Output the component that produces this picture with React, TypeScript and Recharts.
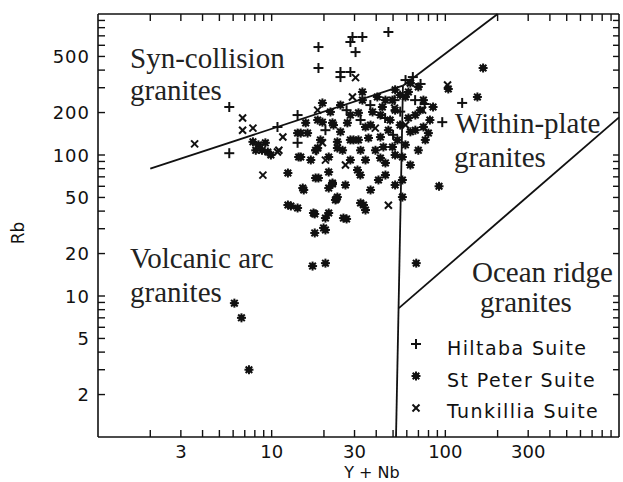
import { ScatterChart, Scatter, XAxis, YAxis, ReferenceLine } from "recharts";

// Y + Nb (x) vs Rb (y), ppm
const hiltaba = [
    { x: 18.6, y: 583 }, { x: 18.6, y: 414 }, { x: 28.4, y: 633 }, { x: 29.2, y: 687 },
    { x: 33.3, y: 687 }, { x: 30.4, y: 537 }, { x: 47, y: 745 }, { x: 24.9, y: 388 },
    { x: 28.4, y: 388 }, { x: 24.9, y: 357 }, { x: 5.7, y: 219 }, { x: 5.7, y: 103 },
    { x: 10.8, y: 158 }, { x: 14.1, y: 192 }, { x: 14.1, y: 122 }, { x: 18.1, y: 108 },
    { x: 125, y: 234 }, { x: 96, y: 171 }, { x: 59, y: 340 }, { x: 65, y: 357 },
    { x: 72, y: 319 }, { x: 67, y: 245 }, { x: 76, y: 230 }, { x: 51, y: 245 },
    { x: 45, y: 183 }, { x: 37, y: 226 }, { x: 20.4, y: 150 }, { x: 32.5, y: 177 },
    { x: 50, y: 139 }, { x: 55, y: 203 }, { x: 27, y: 208 }
];

const stPeter = [
    { x: 6.1, y: 8.9 }, { x: 6.7, y: 7.0 }, { x: 7.4, y: 3.0 }, { x: 17.2, y: 16.3 },
    { x: 20.4, y: 17.1 }, { x: 68, y: 17.1 }, { x: 92, y: 60 }, { x: 165, y: 414 },
    { x: 153, y: 258 }, { x: 85, y: 219 }, { x: 104, y: 294 },
    { x: 7.8, y: 124 }, { x: 8.4, y: 118 }, { x: 9.2, y: 122 }, { x: 8.8, y: 108 },
    { x: 9.5, y: 105 }, { x: 9.9, y: 100 }, { x: 8.1, y: 108 }, { x: 12.4, y: 74.5 },
    { x: 12.9, y: 43.5 }, { x: 14.1, y: 42.1 }, { x: 14.3, y: 96.8 }, { x: 14.1, y: 143 },
    { x: 15.1, y: 58.3 }, { x: 12.4, y: 44.2 }, { x: 15.3, y: 56.5 }, { x: 17.7, y: 38.2 },
    { x: 20.4, y: 35.7 }, { x: 21.3, y: 38.8 }, { x: 19.9, y: 30.4 }, { x: 17.7, y: 28 },
    { x: 23.6, y: 48.7 }, { x: 22.4, y: 62.3 }, { x: 27, y: 35.2 }, { x: 32.5, y: 45.7 },
    { x: 34.7, y: 40.7 }, { x: 25.9, y: 35.7 }, { x: 20.4, y: 29.4 }, { x: 18.6, y: 68.7 },
    { x: 21.3, y: 58.3 }, { x: 17.9, y: 68.7 }, { x: 18.4, y: 112 }, { x: 18.4, y: 177 },
    { x: 19.6, y: 234 }, { x: 14.7, y: 143 }, { x: 19.6, y: 171 }, { x: 22.7, y: 163 },
    { x: 27.3, y: 169 }, { x: 31.6, y: 199 }, { x: 37.1, y: 163 }, { x: 42.3, y: 192 },
    { x: 23.9, y: 124 }, { x: 28.4, y: 128 }, { x: 31.6, y: 128 }, { x: 36.1, y: 132 },
    { x: 42.3, y: 134 }, { x: 25.6, y: 108 }, { x: 14.7, y: 96.8 }, { x: 34.7, y: 92.2 },
    { x: 42.3, y: 95.2 }, { x: 45.2, y: 87.8 }, { x: 21.3, y: 75.7 }, { x: 22.4, y: 63.3 },
    { x: 31.2, y: 78.3 }, { x: 41.2, y: 66.5 }, { x: 56.6, y: 66.5 }, { x: 56.6, y: 50.3 },
    { x: 56.6, y: 96.8 }, { x: 23.9, y: 50.3 }, { x: 33.3, y: 280 }, { x: 40.6, y: 258 },
    { x: 43.4, y: 219 }, { x: 49.6, y: 245 }, { x: 58.9, y: 258 }, { x: 62.9, y: 324 },
    { x: 69.9, y: 304 }, { x: 74.8, y: 245 }, { x: 67.2, y: 192 }, { x: 74.8, y: 158 },
    { x: 79.9, y: 143 }, { x: 62.9, y: 146 }, { x: 53, y: 128 }, { x: 44, y: 114 },
    { x: 34.7, y: 158 }, { x: 29.6, y: 128 }, { x: 24.9, y: 146 }, { x: 22.4, y: 169 },
    { x: 19.1, y: 128 }, { x: 17.9, y: 108 }, { x: 21.3, y: 96.8 }, { x: 23.9, y: 112 },
    { x: 16.1, y: 143 }, { x: 15.7, y: 169 }, { x: 23.3, y: 48 }, { x: 17.4, y: 38.8 },
    { x: 33.8, y: 44.2 }, { x: 49.6, y: 114 }, { x: 51.4, y: 290 }, { x: 54.9, y: 266 },
    { x: 61.3, y: 280 }, { x: 51.4, y: 208 }, { x: 48.1, y: 177 }, { x: 54.9, y: 163 },
    { x: 61.3, y: 183 }, { x: 47, y: 150 }, { x: 58.9, y: 118 }, { x: 51.4, y: 100 },
    { x: 62.9, y: 84.9 }, { x: 69.9, y: 108 }, { x: 76.7, y: 128 }, { x: 81.5, y: 177 },
    { x: 45.2, y: 245 }, { x: 38.1, y: 202 }, { x: 33.3, y: 245 }, { x: 28.4, y: 192 },
    { x: 24.9, y: 226 }, { x: 21.8, y: 202 }, { x: 39.6, y: 108 }, { x: 28.4, y: 92.2 },
    { x: 32.4, y: 72.1 }, { x: 26.6, y: 61.3 }, { x: 37.1, y: 56.5 }, { x: 45.2, y: 72.1 },
    { x: 51.4, y: 61.3 }, { x: 67.2, y: 150 }, { x: 71.8, y: 208 }, { x: 32.5, y: 108 },
    { x: 16.8, y: 92.2 }
];

const tunkillia = [
    { x: 3.6, y: 120 }, { x: 6.8, y: 183 }, { x: 6.8, y: 150 }, { x: 7.8, y: 155 },
    { x: 8.9, y: 72 }, { x: 11.6, y: 134 }, { x: 11, y: 108 }, { x: 10.8, y: 105 },
    { x: 18.4, y: 208 }, { x: 29.2, y: 258 }, { x: 20.4, y: 92 }, { x: 26.6, y: 85 },
    { x: 30.4, y: 354 }, { x: 47, y: 44 }, { x: 63, y: 324 }, { x: 103, y: 314 },
    { x: 74, y: 208 }, { x: 19.6, y: 122 }, { x: 51, y: 215 }, { x: 39.5, y: 155 },
    { x: 59, y: 163 }
];

// field boundaries
const colgVagLine = [{ x: 2, y: 80 }, { x: 57, y: 310 }];
const colgWpgLine = [{ x: 57, y: 310 }, { x: 200, y: 1000 }];
const vagWpgLine = [{ x: 52, y: 1 }, { x: 57, y: 310 }];
const wpgOrgLine = [{ x: 54, y: 8.2 }, { x: 1000, y: 185 }];

const xTicks = [2, 3, 4, 5, 6, 7, 8, 9, 10, 20, 30, 40, 50, 60, 70, 80, 90, 100, 200, 300, 400, 500, 600, 700, 800, 900];
const yTicks = [2, 3, 4, 5, 6, 7, 8, 9, 10, 20, 30, 40, 50, 60, 70, 80, 90, 100, 200, 300, 400, 500, 600, 700, 800, 900];
const xLabels = [3, 10, 30, 100, 300];
const yLabels = [2, 5, 10, 20, 50, 100, 200, 500];

const ink = "#111";
const sansFont = "'DejaVu Sans', sans-serif";
const serifFont = "'Liberation Serif', 'Times New Roman', serif";

// plot box, set by the chart margins and axis sizes below
const plot = { left: 98, right: 619, top: 14, bottom: 437 };
const tickX = (v: number) => plot.left + ((plot.right - plot.left) * Math.log10(v)) / 3;
const tickY = (v: number) => plot.bottom - ((plot.bottom - plot.top) * Math.log10(v)) / 3;

const PlusMark = ({ cx, cy }: any) => (
    <g stroke={ink} strokeWidth={2}>
        <line x1={cx - 5} y1={cy} x2={cx + 5} y2={cy} />
        <line x1={cx} y1={cy - 5} x2={cx} y2={cy + 5} />
    </g>
);

const StarMark = ({ cx, cy }: any) => (
    <g stroke={ink} strokeWidth={2}>
        <circle cx={cx} cy={cy} r={3} fill={ink} stroke="none" />
        <line x1={cx - 4.5} y1={cy} x2={cx + 4.5} y2={cy} />
        <line x1={cx} y1={cy - 4.5} x2={cx} y2={cy + 4.5} />
        <line x1={cx - 3.3} y1={cy - 3.3} x2={cx + 3.3} y2={cy + 3.3} />
        <line x1={cx - 3.3} y1={cy + 3.3} x2={cx + 3.3} y2={cy - 3.3} />
    </g>
);

const CrossMark = ({ cx, cy }: any) => (
    <g stroke={ink} strokeWidth={2}>
        <line x1={cx - 3.5} y1={cy - 3.5} x2={cx + 3.5} y2={cy + 3.5} />
        <line x1={cx - 3.5} y1={cy + 3.5} x2={cx + 3.5} y2={cy - 3.5} />
    </g>
);

const BottomLabel = (props: any) => {
    const { x, y, payload } = props;
    if (!xLabels.includes(payload.value)) return <g />;
    return (
        <text x={x} y={y + 21} textAnchor="middle" fontFamily={sansFont} fontSize={18} fill={ink}>
            {payload.value}
        </text>
    );
};

const LeftLabel = (props: any) => {
    const { x, y, payload } = props;
    if (!yLabels.includes(payload.value)) return <g />;
    return (
        <text x={x - 8} y={y + 6.5} textAnchor="end" fontFamily={sansFont} fontSize={18} letterSpacing={1} fill={ink}>
            {payload.value}
        </text>
    );
};

const fieldLabels = [
    { x: 130, y: 68, text: "Syn-collision" },
    { x: 130, y: 100, text: "granites" },
    { x: 455, y: 133, text: "Within-plate" },
    { x: 454, y: 167, text: "granites" },
    { x: 130, y: 268, text: "Volcanic arc" },
    { x: 130, y: 302, text: "granites" },
    { x: 472, y: 282, text: "Ocean ridge" },
    { x: 480, y: 312, text: "granites" }
];

const legendItems = [
    { name: "Hiltaba Suite", Mark: PlusMark },
    { name: "St Peter Suite", Mark: StarMark },
    { name: "Tunkillia Suite", Mark: CrossMark }
];

export default function App() {
    const axisStyle = { stroke: ink, strokeWidth: 1.6 };
    return (
        <div style={{ position: "absolute", left: 0, top: 0, width: 623, height: 482, background: "#fff" }}>
            <ScatterChart width={623} height={482} margin={{ top: 14, right: 4, bottom: 0, left: 0 }}>
                <XAxis xAxisId="b" type="number" dataKey="x" scale="log" domain={[1, 1000]} allowDataOverflow
                    ticks={xTicks} interval={0} height={45} tickSize={0} tickMargin={0} tickLine={false}
                    axisLine={axisStyle} tick={(p: any) => <BottomLabel {...p} />} />
                <YAxis yAxisId="l" type="number" dataKey="y" scale="log" domain={[1, 1000]} allowDataOverflow
                    ticks={yTicks} interval={0} width={98} tickSize={0} tickMargin={0} tickLine={false}
                    axisLine={axisStyle} tick={(p: any) => <LeftLabel {...p} />} />

                <ReferenceLine xAxisId="b" yAxisId="l" segment={colgVagLine} stroke={ink} strokeWidth={1.8} ifOverflow="visible" />
                <ReferenceLine xAxisId="b" yAxisId="l" segment={colgWpgLine} stroke={ink} strokeWidth={1.8} ifOverflow="visible" />
                <ReferenceLine xAxisId="b" yAxisId="l" segment={vagWpgLine} stroke={ink} strokeWidth={1.8} ifOverflow="visible" />
                <ReferenceLine xAxisId="b" yAxisId="l" segment={wpgOrgLine} stroke={ink} strokeWidth={1.8} ifOverflow="visible" />

                <Scatter xAxisId="b" yAxisId="l" data={hiltaba} shape={(p: any) => <PlusMark cx={p.cx} cy={p.cy} />} isAnimationActive={false} />
                <Scatter xAxisId="b" yAxisId="l" data={stPeter} shape={(p: any) => <StarMark cx={p.cx} cy={p.cy} />} isAnimationActive={false} />
                <Scatter xAxisId="b" yAxisId="l" data={tunkillia} shape={(p: any) => <CrossMark cx={p.cx} cy={p.cy} />} isAnimationActive={false} />
            </ScatterChart>

            {/* frame with inward ticks, field names, legend and axis titles */}
            <svg width={623} height={482} style={{ position: "absolute", left: 0, top: 0, pointerEvents: "none" }}>
                <g stroke={ink} strokeWidth={1.4}>
                    <line x1={plot.left} y1={plot.top} x2={plot.right} y2={plot.top} strokeWidth={1.6} />
                    <line x1={plot.right} y1={plot.top} x2={plot.right} y2={plot.bottom} strokeWidth={1.6} />
                    {xTicks.map((t) => (
                        <g key={`x${t}`}>
                            <line x1={tickX(t)} y1={plot.bottom} x2={tickX(t)} y2={plot.bottom - 7} />
                            <line x1={tickX(t)} y1={plot.top} x2={tickX(t)} y2={plot.top + 7} />
                        </g>
                    ))}
                    {yTicks.map((t) => (
                        <g key={`y${t}`}>
                            <line x1={plot.left} y1={tickY(t)} x2={plot.left + 7} y2={tickY(t)} />
                            <line x1={plot.right} y1={tickY(t)} x2={plot.right - 6} y2={tickY(t)} />
                        </g>
                    ))}
                </g>
                {fieldLabels.map((l, i) => (
                    <text key={i} x={l.x} y={l.y} fontFamily={serifFont} fontSize={29} fill="#222">
                        {l.text}
                    </text>
                ))}
                {legendItems.map((item, i) => (
                    <g key={item.name}>
                        <item.Mark cx={416} cy={344 + i * 32} />
                        <text x={447} y={355 + i * 31.5} fontFamily={sansFont} fontSize={19} letterSpacing={1.4} fill={ink}>
                            {item.name}
                        </text>
                    </g>
                ))}
                <text x={372} y={478} textAnchor="middle" fontFamily={sansFont} fontSize={16} fill={ink}>
                    Y + Nb
                </text>
                <text x={24} y={233} textAnchor="middle" transform="rotate(-90 24 233)" fontFamily={sansFont} fontSize={17} fill={ink}>
                    Rb
                </text>
            </svg>
        </div>
    );
}
